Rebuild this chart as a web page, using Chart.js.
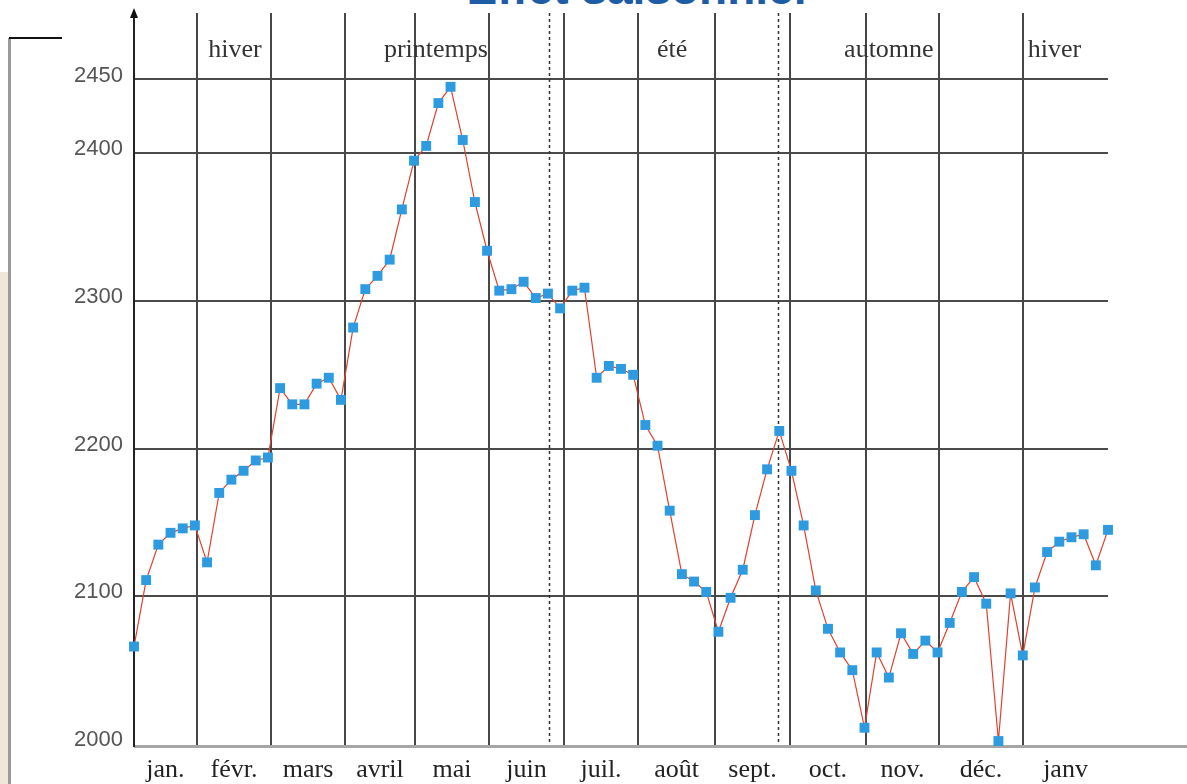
<!DOCTYPE html>
<html lang="fr">
<head>
  <meta charset="UTF-8">
  <title>Effet saisonnier</title>
  <script src="https://cdn.jsdelivr.net/npm/chart.js"></script>
  <style>
    html, body { margin: 0; padding: 0; background: #fff; overflow: hidden; }
    #wrap { position: relative; width: 1187px; height: 784px; }
    #title {
      position: absolute; left: 389px; width: 500px; top: -35px;
      text-align: center; white-space: nowrap;
      font: bold 46px "Liberation Sans", Arial, sans-serif; line-height: 46px;
      color: #1e5ca6;
    }
    #strip { position: absolute; left: 0; top: 272px; width: 8px; height: 512px; background: #efe7da; }
    #bar { position: absolute; left: 8px; top: 38px; width: 3px; height: 746px; background: #9a9a9a; }
    #cap { position: absolute; left: 9px; top: 37px; width: 53px; height: 2px; background: #111; }
    canvas { position: absolute; left: 0; top: 0; }
  </style>
</head>
<body>
<div id="wrap">
  <div id="strip"></div>
  <div id="bar"></div>
  <div id="cap"></div>
  <div id="title">Effet saisonnier</div>
  <canvas id="chart" width="1187" height="784"></canvas>
</div>

<script>
  // weekly values
  const values = [
    2066, 2111, 2135, 2143, 2146, 2148, 2123, 2170, 2179, 2185,
    2192, 2194, 2241, 2230, 2230, 2244, 2248, 2233, 2282, 2308,
    2317, 2328, 2362, 2395, 2405, 2434, 2445, 2409, 2367, 2334,
    2307, 2308, 2313, 2302, 2305, 2295, 2307, 2309, 2248, 2256,
    2254, 2250, 2216, 2202, 2158, 2115, 2110, 2103, 2076, 2099,
    2118, 2155, 2186, 2212, 2185, 2148, 2104, 2078, 2062, 2050,
    2011, 2062, 2045, 2075, 2061, 2070, 2062, 2082, 2103, 2113,
    2095, 2002, 2102, 2060, 2106, 2130, 2137, 2140, 2142, 2121,
    2145
  ];

  const months = ['jan.', 'févr.', 'mars', 'avril', 'mai', 'juin', 'juil.', 'août', 'sept.', 'oct.', 'nov.', 'déc.', 'janv'];
  // week where each month starts (last entry = end of series)
  const monthStarts = [0, 5.17, 11.25, 17.33, 23.08, 29.16, 35.32, 41.4, 47.72, 53.88, 60.12, 66.12, 73.02, 80];

  const seasons = ['hiver', 'printemps', 'été', 'automne', 'hiver'];
  const seasonAt = [8.3, 24.8, 44.2, 62.0, 75.6];
  const seasonCuts = [34.09, 52.9];

  const yTicks = [2000, 2100, 2200, 2300, 2400, 2450];

  const serif = '"Liberation Serif", "Times New Roman", serif';

  const decor = {
    id: 'decor',
    beforeDatasetsDraw(chart) {
      const { ctx, chartArea: a, scales: { x } } = chart;
      ctx.save();
      ctx.strokeStyle = '#474747';
      ctx.lineWidth = 2;
      monthStarts.slice(1, -1).forEach(v => {
        const px = Math.round(x.getPixelForValue(v));
        ctx.beginPath();
        ctx.moveTo(px, a.top);
        ctx.lineTo(px, a.bottom + 1);
        ctx.stroke();
      });

      ctx.setLineDash([3, 3]);
      ctx.lineWidth = 1.5;
      ctx.strokeStyle = '#333';
      seasonCuts.forEach(v => {
        const px = Math.round(x.getPixelForValue(v)) + 0.5;
        ctx.beginPath();
        ctx.moveTo(px, a.top);
        ctx.lineTo(px, a.bottom);
        ctx.stroke();
      });
      ctx.setLineDash([]);

      // x axis, running to the right edge
      ctx.strokeStyle = '#a6a6a6';
      ctx.lineWidth = 3;
      ctx.beginPath();
      ctx.moveTo(a.left, a.bottom + 2.5);
      ctx.lineTo(chart.width, a.bottom + 2.5);
      ctx.stroke();

      // y axis with arrow
      ctx.strokeStyle = '#222';
      ctx.lineWidth = 2;
      ctx.beginPath();
      ctx.moveTo(a.left, a.bottom + 3);
      ctx.lineTo(a.left, 14);
      ctx.stroke();
      ctx.fillStyle = '#111';
      ctx.beginPath();
      ctx.moveTo(a.left, 8);
      ctx.lineTo(a.left - 4, 18);
      ctx.lineTo(a.left + 4, 18);
      ctx.closePath();
      ctx.fill();
      ctx.restore();
    },
    afterDraw(chart) {
      const { ctx, scales: { x } } = chart;
      ctx.save();
      ctx.font = '26px ' + serif;
      ctx.textAlign = 'center';
      ctx.textBaseline = 'middle';
      ctx.fillStyle = '#222';
      months.forEach((m, i) => {
        const mid = (monthStarts[i] + monthStarts[i + 1]) / 2;
        ctx.fillText(m, x.getPixelForValue(mid), 770);
      });
      ctx.fillStyle = '#333';
      seasons.forEach((s, i) => {
        ctx.fillText(s, x.getPixelForValue(seasonAt[i]), 50);
      });
      ctx.restore();
    }
  };

  new Chart(document.getElementById('chart'), {
    type: 'line',
    data: {
      datasets: [{
        data: values.map((v, i) => ({ x: i, y: v })),
        borderColor: '#e2402f',
        borderWidth: 1.2,
        pointStyle: 'rect',
        pointRadius: 7,
        pointHoverRadius: 7,
        pointBorderWidth: 0,
        pointBackgroundColor: '#2e9be0',
        tension: 0,
        clip: false
      }]
    },
    options: {
      responsive: false,
      animation: false,
      events: [],
      layout: { padding: { top: 13, right: 79, bottom: 0, left: 0 } },
      plugins: { legend: { display: false }, tooltip: { enabled: false } },
      scales: {
        x: {
          type: 'linear',
          min: 0,
          max: 80,
          grid: { display: false },
          border: { display: false },
          ticks: { display: false },
          afterFit: s => { s.height = 40; s.paddingLeft = 0; s.paddingRight = 0; }
        },
        y: {
          min: 2000,
          max: 2495,
          afterBuildTicks: s => { s.ticks = yTicks.map(v => ({ value: v })); },
          afterFit: s => { s.width = 134; s.paddingTop = 0; s.paddingBottom = 0; },
          border: { display: false },
          grid: {
            drawTicks: false,
            lineWidth: 2,
            color: c => c.tick && c.tick.value === 2000 ? 'rgba(0,0,0,0)' : '#4a4a4a'
          },
          ticks: {
            padding: 11,
            labelOffset: -4,
            color: '#555',
            font: { family: '"Liberation Sans", Arial, sans-serif', size: 22 },
            callback: v => String(v)
          }
        }
      }
    },
    plugins: [decor]
  });
</script>
</body>
</html>
